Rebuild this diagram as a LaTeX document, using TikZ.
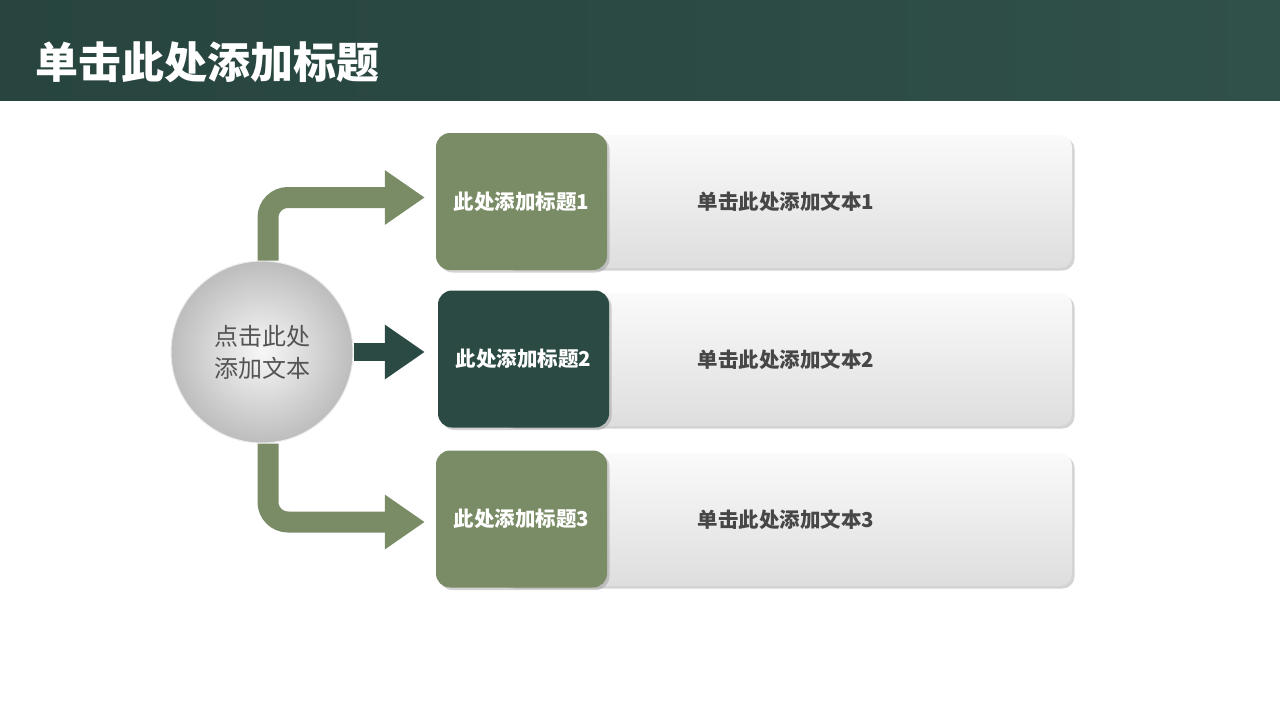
\documentclass[tikz,border=0pt]{standalone}
\usepackage{fontspec}
\setmainfont{Noto Sans CJK SC}
\usetikzlibrary{arrows.meta,shadows}

\definecolor{barleft}{HTML}{27443E}
\definecolor{barright}{HTML}{30504A}
\definecolor{olive}{HTML}{7A8C65}
\definecolor{pine}{HTML}{2B4A43}
\definecolor{inkgray}{HTML}{474747}

\tikzset{
  headbox/.style={rounded corners=14pt, minimum width=171pt, minimum height=137pt,
    inner sep=0pt, text=white, font=\bfseries\fontsize{20.5}{24}\selectfont,
    drop shadow={shadow xshift=2.5pt, shadow yshift=-2.5pt, opacity=.35}},
  textbox/.style={rounded corners=12pt, minimum width=572pt, minimum height=133pt,
    inner sep=0pt, top color=white!98!black, middle color=white!96!black, bottom color=white!87!black,
    text=inkgray, font=\bfseries\fontsize{20.5}{24}\selectfont,
    drop shadow={shadow xshift=2.5pt, shadow yshift=-2.5pt, opacity=.35}},
  flow/.style={line width=21pt, rounded corners=20pt,
    -{Triangle[length=40pt,width=52pt]}}
}

\begin{document}
\begin{tikzpicture}[x=1pt,y=-1pt]
            \useasboundingbox (0,0) rectangle (1280,720);

            % title bar
            \fill[left color=barleft, right color=barright] (0,0) rectangle (1280,100);
            \node[anchor=west, text=white, font=\bfseries\fontsize{43}{48}\selectfont, inner sep=0pt]
              (title) at (35,62) {单击此处添加标题};

            % rows
            \node[textbox] (b1) at (786,201.5) {单击此处添加文本1};
            \node[textbox] (b2) at (786,359.5) {单击此处添加文本2};
            \node[textbox] (b3) at (786,519.5) {单击此处添加文本3};

            \node[headbox, fill=olive] (t1) at (521.5,201.5) {此处添加标题1};
            \node[headbox, fill=pine]  (t2) at (523.5,359)   {此处添加标题2};
            \node[headbox, fill=olive] (t3) at (521.5,519)   {此处添加标题3};

            % hub
            \node[circle, minimum size=182pt, inner sep=0pt, draw=white!92!black, line width=1pt,
              inner color=white!97!black, outer color=white!74!black,
              text=white!33!black, align=center, font=\fontsize{24}{32}\selectfont]
              (hub) at (262,352) {点击此处\\添加文本};

            % arrows
            \draw[flow, olive, shorten >=11pt] ([xshift=6pt]hub.north) |- ([yshift=4pt]t1.west);
            \draw[flow, pine, line width=18pt, shorten >=13pt] (hub.east) -- (hub.east -| t2.west);
            \draw[flow, olive, shorten >=11pt] ([xshift=6pt]hub.south) |- ([yshift=-3pt]t3.west);
\end{tikzpicture}
\end{document}
